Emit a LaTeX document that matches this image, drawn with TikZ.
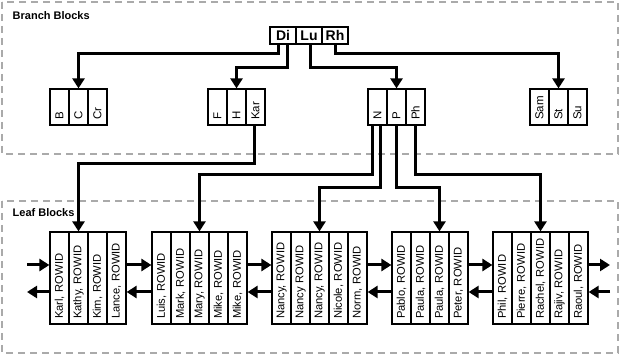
\documentclass[tikz,border=0pt]{standalone}
\usepackage{fontspec}
\setmainfont{Liberation Sans}
\usepackage{tikz}
\usetikzlibrary{calc, arrows.meta}
\definecolor{framegray}{RGB}{170,170,170}

\begin{document}
\begin{tikzpicture}[x=1pt, y=-1pt,
    frame/.style={draw=framegray, line width=2.5pt, dash pattern=on 7pt off 5pt},
    title/.style={anchor=base west, inner sep=0pt, font=\bfseries\fontsize{11}{13}\selectfont},
    rootcell/.style={draw, line width=1.2pt, minimum width=26pt, minimum height=17pt, inner sep=0pt, font=\bfseries\fontsize{14}{16}\selectfont},
    branchcell/.style={draw, line width=1.2pt, rotate=90, minimum height=19pt, text width=26pt, inner xsep=5pt, inner ysep=0pt, align=left, font=\fontsize{11.5}{13}\selectfont},
    leafcell/.style={draw, line width=1.2pt, rotate=90, minimum height=19pt, text width=82pt, inner xsep=5pt, inner ysep=0pt, align=left, font=\fontsize{11.2}{13}\selectfont},
    link/.style={line width=3pt, -{Triangle[length=10pt, width=12pt]}}]
                \useasboundingbox (0,0) rectangle (624,355);
                % frames
                \draw[frame] (2,2) rectangle (618,154);
                \draw[frame] (2,201) rectangle (618,353);
                \node[title] (branchtitle) at (12.5,19.5) {Branch Blocks};
                \node[title] (leaftitle) at (12.5,217) {Leaf Blocks};
                % root block
                \node[rootcell] (di) at (283,35.5) {Di};
                \node[rootcell] (lu) at (309,35.5) {Lu};
                \node[rootcell] (rh) at (335,35.5) {Rh};
                % branch blocks (rotated: east = top, west = bottom)
                \node[branchcell] (b) at (59.5,107) {B};
                \node[branchcell] (c) at (78.5,107) {C};
                \node[branchcell] (cr) at (97.5,107) {Cr};
                \node[branchcell] (f) at (217.5,107) {F};
                \node[branchcell] (h) at (236.5,107) {H};
                \node[branchcell] (kar) at (255.5,107) {Kar};
                \node[branchcell] (n) at (377.5,107) {N};
                \node[branchcell] (p) at (396.5,107) {P};
                \node[branchcell] (ph) at (415.5,107) {Ph};
                \node[branchcell] (sam) at (539.5,107) {Sam};
                \node[branchcell] (st) at (558.5,107) {St};
                \node[branchcell] (su) at (577.5,107) {Su};
                % leaf blocks
                \node[leafcell] (karl) at (59.5,278) {Karl, ROWID};
                \node[leafcell] (kathy) at (78.5,278) {Kathy, ROWID};
                \node[leafcell] (kim) at (97.5,278) {Kim, ROWID};
                \node[leafcell] (lance) at (116.5,278) {Lance, ROWID};
                \node[leafcell] (luis) at (161.5,278) {Luis, ROWID};
                \node[leafcell] (mark) at (180.5,278) {Mark, ROWID};
                \node[leafcell] (mary) at (199.5,278) {Mary, ROWID};
                \node[leafcell] (mikea) at (218.5,278) {Mike, ROWID};
                \node[leafcell] (mikeb) at (237.5,278) {Mike, ROWID};
                \node[leafcell] (nancya) at (281.5,278) {Nancy, ROWID};
                \node[leafcell] (nancyb) at (300.5,278) {Nancy ROWID};
                \node[leafcell] (nancyc) at (319.5,278) {Nancy, ROWID};
                \node[leafcell] (nicole) at (338.5,278) {Nicole, ROWID};
                \node[leafcell] (norm) at (357.5,278) {Norm, ROWID};
                \node[leafcell] (pablo) at (401.5,278) {Pablo, ROWID};
                \node[leafcell] (paulaa) at (420.5,278) {Paula, ROWID};
                \node[leafcell] (paulab) at (439.5,278) {Paula, ROWID};
                \node[leafcell] (peter) at (458.5,278) {Peter, ROWID};
                \node[leafcell] (phil) at (502.5,278) {Phil, ROWID};
                \node[leafcell] (pierre) at (521.5,278) {Pierre, ROWID};
                \node[leafcell] (rachel) at (540.5,278) {Rachel, ROWID};
                \node[leafcell] (rajiv) at (559.5,278) {Rajiv, ROWID};
                \node[leafcell] (raoul) at (578.5,278) {Raoul, ROWID};
                \coordinate (leftend) at (27,278);
                \coordinate (rightend) at (610,278);
                % root -> branch
                \draw[link] ([xshift=-5pt]di.south) -- ++(0,9) -| (c.east);
                \draw[link] ([xshift=4pt]di.south) -- ++(0,23) -| (h.east);
                \draw[link] ([xshift=1pt]lu.south) -- ++(0,23) -| (p.east);
                \draw[link] (rh.south) -- ++(0,9) -| (st.east);
                % branch -> leaf
                \draw[link] ([xshift=-1pt]kar.west) -- ++(0,38) -| (kathy.east);
                \draw[link] ([xshift=-5.5pt]n.west) -- ++(0,49) -| (mary.east);
                \draw[link] ([xshift=2.5pt]n.west) -- ++(0,62) -| (nancyc.east);
                \draw[link] (p.west) -- ++(0,62) -| (paulab.east);
                \draw[link] (ph.west) -- ++(0,49) -| (rachel.east);
                % leaf chain
                \draw[link] ([yshift=13pt]leftend) -- ([yshift=13pt]karl.north);
                \draw[link] ([yshift=-14pt]karl.north) -- ([yshift=-14pt]leftend);
                \draw[link] ([yshift=13pt]lance.south) -- ([yshift=13pt]luis.north);
                \draw[link] ([yshift=-14pt]luis.north) -- ([yshift=-14pt]lance.south);
                \draw[link] ([yshift=13pt]mikeb.south) -- ([yshift=13pt]nancya.north);
                \draw[link] ([yshift=-14pt]nancya.north) -- ([yshift=-14pt]mikeb.south);
                \draw[link] ([yshift=13pt]norm.south) -- ([yshift=13pt]pablo.north);
                \draw[link] ([yshift=-14pt]pablo.north) -- ([yshift=-14pt]norm.south);
                \draw[link] ([yshift=13pt]peter.south) -- ([yshift=13pt]phil.north);
                \draw[link] ([yshift=-14pt]phil.north) -- ([yshift=-14pt]peter.south);
                \draw[link] ([yshift=13pt]raoul.south) -- ([yshift=13pt]rightend);
                \draw[link] ([yshift=-14pt]rightend) -- ([yshift=-14pt]raoul.south);
            \end{tikzpicture}
\end{document}
